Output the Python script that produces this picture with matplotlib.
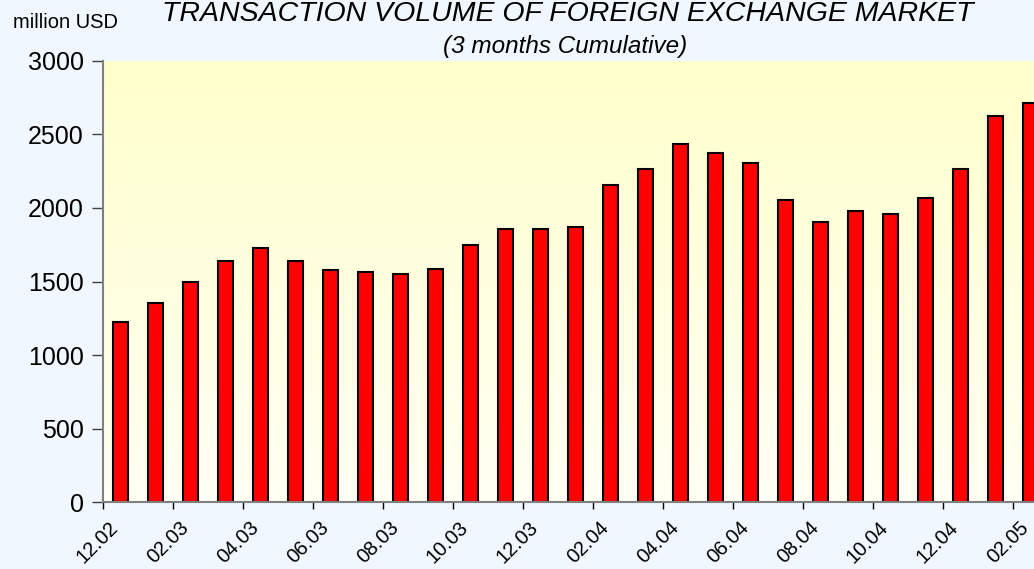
import numpy as np
import matplotlib
matplotlib.use('Agg')
import matplotlib.pyplot as plt
from matplotlib.colors import LinearSegmentedColormap

plt.rcParams['font.family'] = ['Liberation Sans', 'DejaVu Sans']

# monthly points, 12.2002 .. 02.2005
months = ['12.02', '01.03', '02.03', '03.03', '04.03', '05.03', '06.03', '07.03',
          '08.03', '09.03', '10.03', '11.03', '12.03', '01.04', '02.04', '03.04',
          '04.04', '05.04', '06.04', '07.04', '08.04', '09.04', '10.04', '11.04',
          '12.04', '01.05', '02.05']
volume = [1227, 1354, 1494, 1637, 1725, 1637, 1580, 1567, 1551, 1583,
          1746, 1855, 1855, 1870, 2158, 2264, 2432, 2375, 2303, 2054,
          1906, 1979, 1961, 2067, 2264, 2626, 2713]
y_ticks = [0, 500, 1000, 1500, 2000, 2500, 3000]

fig = plt.figure(figsize=(10.34, 5.69), dpi=100)
fig.patch.set_facecolor('#F0F7FF')
ax = fig.add_axes([0.0996, 0.1172, 0.9139, 0.776])

# pale yellow gradient behind the bars
grad = np.linspace(1, 0, 256).reshape(-1, 1)
cmap = LinearSegmentedColormap.from_list('bg', ['#FFFFF4', '#FFFFCC'])
ax.imshow(grad, cmap=cmap, extent=[0, 1, 0, 1], transform=ax.transAxes,
          aspect='auto', zorder=0)

x = np.arange(len(months))
ax.bar(x, volume, width=0.45, color='#FF0000', edgecolor='black',
       linewidth=1.5, zorder=2)

ax.set_xlim(-0.5, len(months) - 0.5)
ax.set_ylim(0, 3000)
ax.set_yticks(y_ticks)
ax.set_yticklabels([str(v) for v in y_ticks], fontsize=18)
ax.tick_params(axis='y', length=8, width=1, color='#404040', pad=6)

# tick marks between categories, labels under every second bar
ax.set_xticks(np.arange(-0.5, len(months) - 0.5, 2))
ax.set_xticklabels([])
ax.tick_params(axis='x', which='major', length=5, width=1, color='black')
ax.set_xticks(x[::2] + 0.05, minor=True)
ax.set_xticklabels(months[::2], minor=True, rotation=45, ha='right',
                   va='bottom', rotation_mode='anchor', fontsize=14.5)
ax.tick_params(axis='x', which='minor', length=0, pad=21)

for s in ['top', 'right']:
    ax.spines[s].set_visible(False)
for s in ['left', 'bottom']:
    ax.spines[s].set_color('#808080')
    ax.spines[s].set_linewidth(1.5)

fig.text(0.549, 0.975, 'TRANSACTION VOLUME OF FOREIGN EXCHANGE MARKET',
         ha='center', va='center', fontsize=20.5, style='italic')
fig.text(0.547, 0.919, '(3 months Cumulative)', ha='center', va='center',
         fontsize=17.5, style='italic')
fig.text(0.0126, 0.961, 'million USD', ha='left', va='center', fontsize=14.5)

fig.savefig('out.png', dpi=100, facecolor=fig.get_facecolor())
